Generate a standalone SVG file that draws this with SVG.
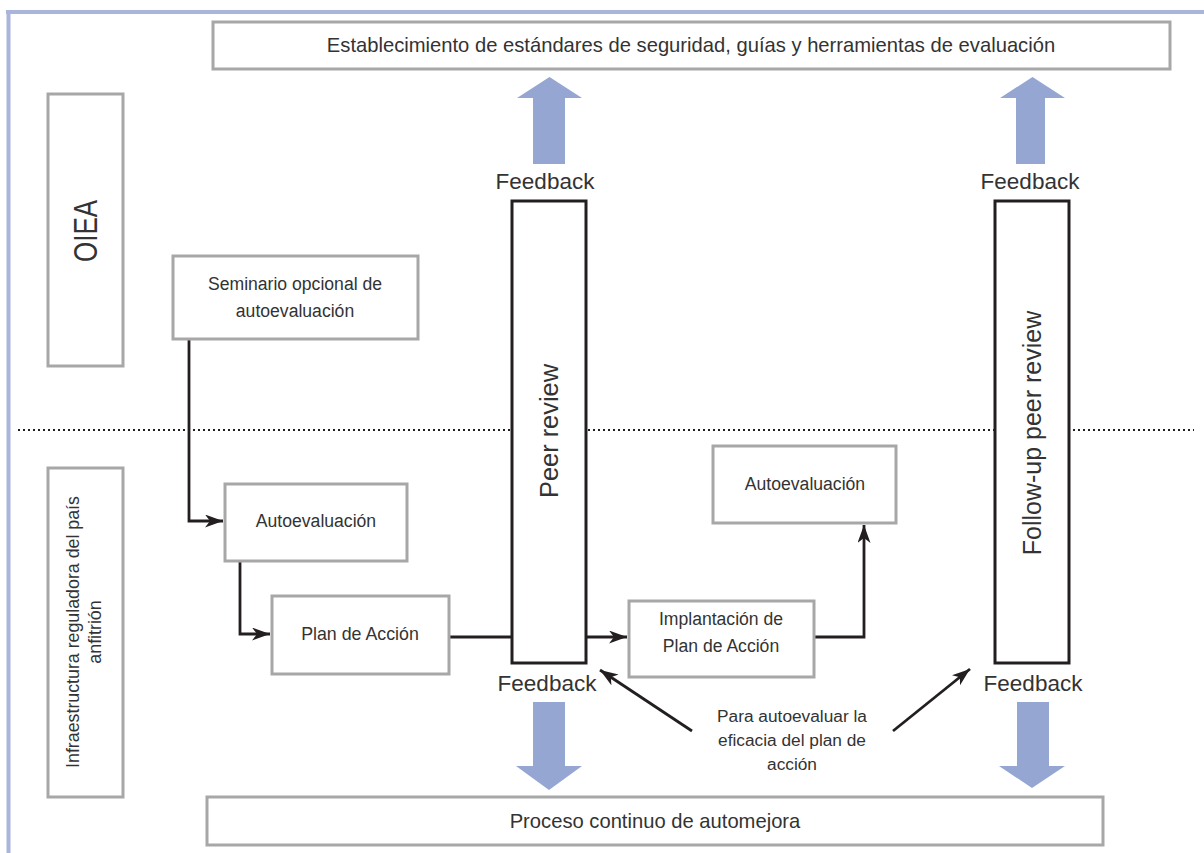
<svg xmlns="http://www.w3.org/2000/svg" width="1204" height="853" viewBox="0 0 1204 853">
<defs>
<style>
.gbox{fill:#fff;stroke:#a7a7a7;stroke-width:3}
.kbox{fill:#fff;stroke:#231f20;stroke-width:3}
.t{font-family:"Liberation Sans",Arial,sans-serif;fill:#333;text-anchor:middle}
.con{fill:none;stroke:#231f20;stroke-width:2.8}
.blue{fill:#96a6d2}
</style>
<marker id="ah" markerUnits="userSpaceOnUse" markerWidth="20" markerHeight="14" refX="18" refY="6.5" orient="auto">
<path d="M0,0 L18,6.5 L0,13 L5,6.5 z" fill="#231f20"/>
</marker>
</defs>
<rect width="1204" height="853" fill="#fff"/>
<g id="frame">
<line x1="6" y1="12" x2="1204" y2="12" stroke="#aab5dc" stroke-width="4"/>
<line x1="8.5" y1="10" x2="8.5" y2="853" stroke="#aab5dc" stroke-width="4"/>
<line x1="18" y1="430" x2="1194" y2="430" stroke="#231f20" stroke-width="2" stroke-dasharray="2,3"/>
</g>
<g id="feedback-arrows">
<path class="blue" d="M533,164 L533,98 L517,98 L549.5,77 L582,98 L565,98 L565,164 Z"/>
<path class="blue" d="M1016,164 L1016,98 L1000,98 L1032.5,77 L1065,98 L1045,98 L1045,164 Z"/>
<path class="blue" d="M533,702 L533,766 L516,766 L549,790 L582,766 L565,766 L565,702 Z"/>
<path class="blue" d="M1017,702 L1017,766 L999,766 L1032,788 L1065,766 L1049,766 L1049,702 Z"/>
</g>
<g id="connectors">
<polyline class="con" points="189,340 189,521 223,521" marker-end="url(#ah)"/>
<polyline class="con" points="240,562 240,634 270,634" marker-end="url(#ah)"/>
<line class="con" x1="450" y1="637" x2="512" y2="637"/>
<line class="con" x1="586" y1="637" x2="627" y2="637" marker-end="url(#ah)"/>
<polyline class="con" points="815,637 864,637 864,525" marker-end="url(#ah)"/>
<line class="con" x1="692" y1="731" x2="600" y2="670" marker-end="url(#ah)"/>
<line class="con" x1="893" y1="731" x2="970" y2="669" marker-end="url(#ah)"/>
</g>
<g id="n-top">
<rect class="gbox" x="213" y="22" width="957" height="47"/>
<text class="t" x="691" y="52" font-size="20.2">Establecimiento de estándares de seguridad, guías y herramientas de evaluación</text>
</g>
<g id="n-oiea">
<rect class="gbox" x="48" y="94" width="75" height="272"/>
<text class="t" transform="translate(97,231) rotate(-90)" font-size="34" textLength="62" lengthAdjust="spacingAndGlyphs">OIEA</text>
</g>
<g id="n-infra">
<rect class="gbox" x="48" y="468" width="75" height="329"/>
<text class="t" transform="translate(79,632) rotate(-90)" font-size="17.8">Infraestructura reguladora del país</text>
<text class="t" transform="translate(101,632) rotate(-90)" font-size="17.8">anfitrión</text>
</g>
<g id="n-seminario">
<rect class="gbox" x="173" y="256" width="245" height="83"/>
<text class="t" x="295" y="290" font-size="17.6">Seminario opcional de</text>
<text class="t" x="295" y="317" font-size="17.6">autoevaluación</text>
</g>
<g id="n-auto1">
<rect class="gbox" x="225" y="484" width="182" height="77"/>
<text class="t" x="316" y="527" font-size="17.6">Autoevaluación</text>
</g>
<g id="n-plan">
<rect class="gbox" x="272" y="596" width="177" height="78"/>
<text class="t" x="360" y="640" font-size="17.8">Plan de Acción</text>
</g>
<g id="n-peer">
<rect class="kbox" x="512" y="201" width="74" height="462"/>
<text class="t" transform="translate(558,431) rotate(-90)" font-size="25.4">Peer review</text>
<text class="t" x="545" y="189" font-size="22.5">Feedback</text>
<text class="t" x="547" y="691" font-size="22.5">Feedback</text>
</g>
<g id="n-impl">
<rect class="gbox" x="629" y="601" width="185" height="76"/>
<text class="t" x="721" y="625" font-size="17.6">Implantación de</text>
<text class="t" x="721" y="652" font-size="17.6">Plan de Acción</text>
</g>
<g id="n-auto2">
<rect class="gbox" x="713" y="446" width="183" height="77"/>
<text class="t" x="805" y="490" font-size="17.6">Autoevaluación</text>
</g>
<g id="n-followup">
<rect class="kbox" x="995" y="201" width="74" height="462"/>
<text class="t" transform="translate(1041,433) rotate(-90)" font-size="25">Follow-up peer review</text>
<text class="t" x="1030" y="189" font-size="22.5">Feedback</text>
<text class="t" x="1033" y="691" font-size="22.5">Feedback</text>
</g>
<g id="n-note">
<text class="t" x="792" y="722" font-size="17.3">Para autoevaluar la</text>
<text class="t" x="792" y="746" font-size="17.3">eficacia del plan de</text>
<text class="t" x="792" y="770" font-size="17.3">acción</text>
</g>
<g id="n-bottom">
<rect class="gbox" x="207" y="797" width="896" height="48"/>
<text class="t" x="655" y="828" font-size="20.2">Proceso continuo de automejora</text>
</g>
</svg>
